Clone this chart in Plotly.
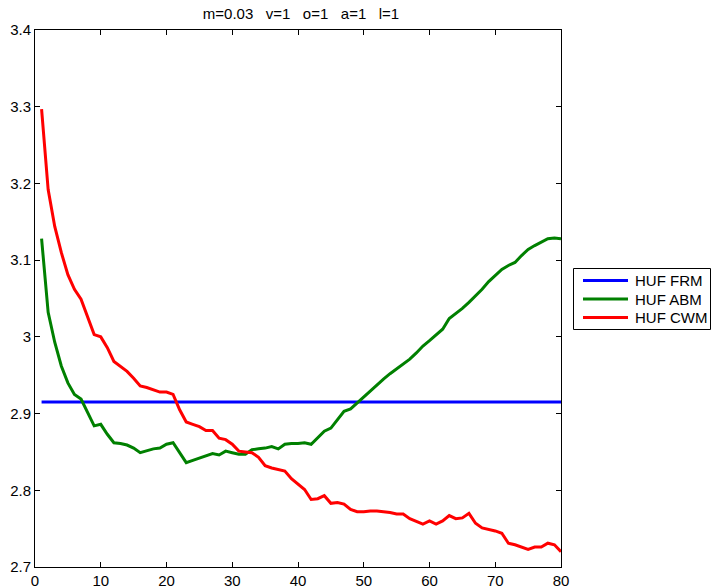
import plotly.graph_objects as go

# Iteration index
steps = list(range(1, 81))

# HUF FRM: flat benchmark
frm = [2.915] * 80

# HUF ABM
abm = [
    3.128, 3.032, 2.993, 2.962, 2.940, 2.925, 2.919, 2.902, 2.884, 2.886,
    2.873, 2.862, 2.861, 2.859, 2.855, 2.849, 2.852, 2.854, 2.855, 2.860,
    2.862, 2.849, 2.836, 2.839, 2.842, 2.844, 2.848, 2.846, 2.851, 2.849,
    2.847, 2.847, 2.853, 2.854, 2.855, 2.857, 2.854, 2.860, 2.861, 2.861,
    2.862, 2.860, 2.868, 2.877, 2.881, 2.892, 2.903, 2.906, 2.914, 2.921,
    2.929, 2.937, 2.945, 2.952, 2.958, 2.964, 2.971, 2.979, 2.988, 2.995,
    3.003, 3.010, 3.024, 3.030, 3.037, 3.045, 3.053, 3.062, 3.072, 3.080,
    3.088, 3.093, 3.097, 3.106, 3.114, 3.119, 3.124, 3.128, 3.129, 3.128,
]

# HUF CWM
cwm = [
    3.297, 3.192, 3.144, 3.110, 3.081, 3.062, 3.049, 3.025, 3.003, 3.000,
    2.986, 2.968, 2.961, 2.955, 2.946, 2.936, 2.934, 2.931, 2.928, 2.928,
    2.925, 2.905, 2.889, 2.886, 2.883, 2.878, 2.878, 2.868, 2.866, 2.860,
    2.851, 2.850, 2.849, 2.843, 2.832, 2.829, 2.827, 2.825, 2.815, 2.808,
    2.801, 2.788, 2.789, 2.793, 2.783, 2.784, 2.782, 2.775, 2.772, 2.772,
    2.773, 2.773, 2.772, 2.771, 2.769, 2.769, 2.763, 2.759, 2.756, 2.760,
    2.756, 2.760, 2.767, 2.763, 2.764, 2.770, 2.757, 2.751, 2.749, 2.747,
    2.744, 2.731, 2.729, 2.726, 2.723, 2.726, 2.726, 2.731, 2.729, 2.720,
]

x_ticks = [0, 10, 20, 30, 40, 50, 60, 70, 80]
y_ticks = [2.7, 2.8, 2.9, 3.0, 3.1, 3.2, 3.3, 3.4]
y_tick_text = ["2.7", "2.8", "2.9", "3", "3.1", "3.2", "3.3", "3.4"]

series = [
    ("HUF FRM", frm, "#0000FF"),
    ("HUF ABM", abm, "#008000"),
    ("HUF CWM", cwm, "#FF0000"),
]

# Figure geometry (pixels)
W, H = 711, 588
M_L, M_R, M_T, M_B = 35, 150, 30, 21
PLOT_W = W - M_L - M_R
PLOT_H = H - M_T - M_B


def px_x(px):
    return (px - M_L) / PLOT_W


def px_y(py):
    return (H - M_B - py) / PLOT_H


fig = go.Figure()
for name, vals, color in series:
    fig.add_trace(go.Scatter(
        x=steps, y=vals, mode="lines", name=name,
        line=dict(color=color, width=3), showlegend=False,
    ))

font_family = "Liberation Sans, Arial, sans-serif"
gap = "\u00a0" * 3
title_text = gap.join(["m=0.03", "v=1", "o=1", "a=1", "l=1"])

axis_common = dict(
    showgrid=False, zeroline=False, automargin=False,
    showline=True, linecolor="black", linewidth=1,
    mirror="ticks", ticks="inside", ticklen=5, tickcolor="black",
    tickfont=dict(family=font_family, size=15, color="black"),
)

# Boxed legend to the right of the axes
shapes = [dict(
    type="rect", xref="paper", yref="paper",
    x0=px_x(573.5), x1=px_x(710.5), y0=px_y(329.5), y1=px_y(268.5),
    line=dict(color="black", width=1), fillcolor="white", layer="above",
)]
annotations = []
row_y = [280.5, 299, 317.5]
for (name, _, color), ry in zip(series, row_y):
    shapes.append(dict(
        type="line", xref="paper", yref="paper",
        x0=px_x(583), x1=px_x(628), y0=px_y(ry), y1=px_y(ry),
        line=dict(color=color, width=3), layer="above",
    ))
    annotations.append(dict(
        text=name, xref="paper", yref="paper",
        x=px_x(633), y=px_y(ry), xanchor="left", yanchor="middle",
        showarrow=False,
        font=dict(family=font_family, size=15, color="black"),
    ))

fig.update_layout(
    width=W, height=H,
    margin=dict(l=M_L, r=M_R, t=M_T, b=M_B),
    paper_bgcolor="white", plot_bgcolor="white",
    title=dict(
        text=title_text,
        x=301 / W, xanchor="center",
        y=1 - 14 / H, yanchor="middle",
        font=dict(family=font_family, size=15, color="black"),
    ),
    xaxis=dict(range=[0, 80], tickvals=x_ticks, **axis_common),
    yaxis=dict(range=[2.7, 3.4], tickvals=y_ticks, ticktext=y_tick_text, **axis_common),
    shapes=shapes,
    annotations=annotations,
    showlegend=False,
)

fig.write_html("out.html")
